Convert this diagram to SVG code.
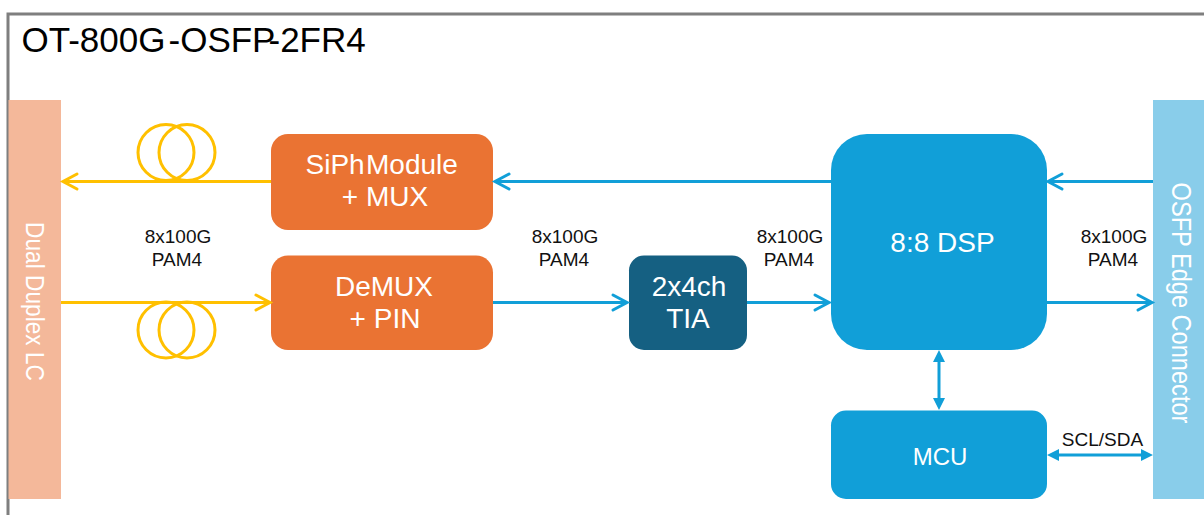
<svg xmlns="http://www.w3.org/2000/svg" width="1204" height="515" viewBox="0 0 1204 515">
<defs>
<style>
text{font-family:"Liberation Sans",Arial,sans-serif;text-anchor:middle}
.lbl{font-size:19px;fill:#111}
.big{font-size:28px;fill:#fff}
.title{font-size:35px;fill:#000;text-anchor:start}
.y{stroke:#ffc000;stroke-width:3;fill:none}
.b{stroke:#119fd8;stroke-width:3;fill:none}
.hy{stroke:#ffc000;stroke-width:3;fill:none;stroke-linecap:round}
.hb{stroke:#119fd8;stroke-width:3;fill:none;stroke-linecap:round}
.tri{fill:#119fd8}
</style>
</defs>
<rect width="1204" height="515" fill="#fff"/>
<path d="M8 515V14H1204" fill="none" stroke="#7f7f7f" stroke-width="3"/>
<text class="title" y="52"><tspan x="21.500">OT-800G</tspan><tspan x="168.500">-OSFP</tspan><tspan x="268.500">-2FR4</tspan></text>

<g id="lc"><rect x="8.500" y="100" width="52.500" height="399" fill="#f4b89a"/>
<text transform="translate(26 301.500) rotate(90) scale(1 1.1)" class="big" style="font-size:22.700px">Dual Duplex LC</text></g>
<g id="osfp"><rect x="1153" y="100" width="51" height="399" fill="#89cdea"/>
<text transform="translate(1172 303) rotate(90) scale(1 1.15)" class="big" style="font-size:23.600px">OSFP Edge Connector</text></g>
<g id="siph"><rect x="271" y="134" width="222" height="96" rx="17" fill="#ea7333"/>
<text y="174" class="big" style="text-anchor:start"><tspan x="305.500">SiPh</tspan><tspan x="366">Module</tspan></text><text x="385" y="206" class="big">+ MUX</text></g>
<g id="demux"><rect x="271" y="255.500" width="222" height="94.500" rx="17" fill="#ea7333"/>
<text x="384" y="296" class="big">DeMUX</text><text x="385" y="328" class="big">+ PIN</text></g>
<g id="tia"><rect x="629" y="255.500" width="118" height="94.500" rx="15" fill="#156082"/>
<text x="689" y="296" class="big">2x4ch</text><text x="688" y="328" class="big">TIA</text></g>
<g id="dsp"><rect x="831" y="134" width="216" height="216" rx="36" fill="#119fd8"/>
<text x="942.500" y="252" class="big">8:8 DSP</text></g>
<g id="mcu"><rect x="831" y="410.500" width="216" height="88.500" rx="15" fill="#119fd8"/>
<text x="940" y="465" class="big" style="font-size:24px">MCU</text></g>

<g id="connectors">
<path class="y" d="M271 181.500H63"/><path class="hy" d="M77 174L63 181.500L77 189"/>
<circle class="y" cx="166" cy="152.500" r="28"/><circle class="y" cx="187" cy="152.500" r="28"/>
<path class="y" d="M61 302.500H269"/><path class="hy" d="M256 295L270 302.500L256 310"/>
<circle class="y" cx="166" cy="330" r="28"/><circle class="y" cx="187" cy="330" r="28"/>
<path class="b" d="M831 181.500H495"/><path class="hb" d="M509 174L495 181.500L509 189"/>
<path class="b" d="M493 302.500H626"/><path class="hb" d="M613 295L627 302.500L613 310"/>
<path class="b" d="M747 302.500H828"/><path class="hb" d="M815 295L829 302.500L815 310"/>
<path class="b" d="M1153 181.500H1049"/><path class="hb" d="M1062 174L1048 181.500L1062 189"/>
<path class="b" d="M1047 302.500H1151"/><path class="hb" d="M1138 295L1152 302.500L1138 310"/>
<path class="b" d="M939 360V400"/><path class="tri" d="M939 350L945 362H933ZM939 410L933 398H945Z"/>
<path class="b" d="M1057 455H1143"/><path class="tri" d="M1047 455L1059 449V461ZM1153 455L1141 449V461Z"/>
</g>

<g id="labels">
<text x="178" y="243" class="lbl">8x100G</text><text x="177" y="266" class="lbl">PAM4</text>
<text x="565" y="243" class="lbl">8x100G</text><text x="564" y="266" class="lbl">PAM4</text>
<text x="790" y="243" class="lbl">8x100G</text><text x="789" y="266" class="lbl">PAM4</text>
<text x="1114" y="243" class="lbl">8x100G</text><text x="1113" y="266" class="lbl">PAM4</text>
<text x="1102.500" y="446" class="lbl">SCL/SDA</text>
</g>
</svg>
